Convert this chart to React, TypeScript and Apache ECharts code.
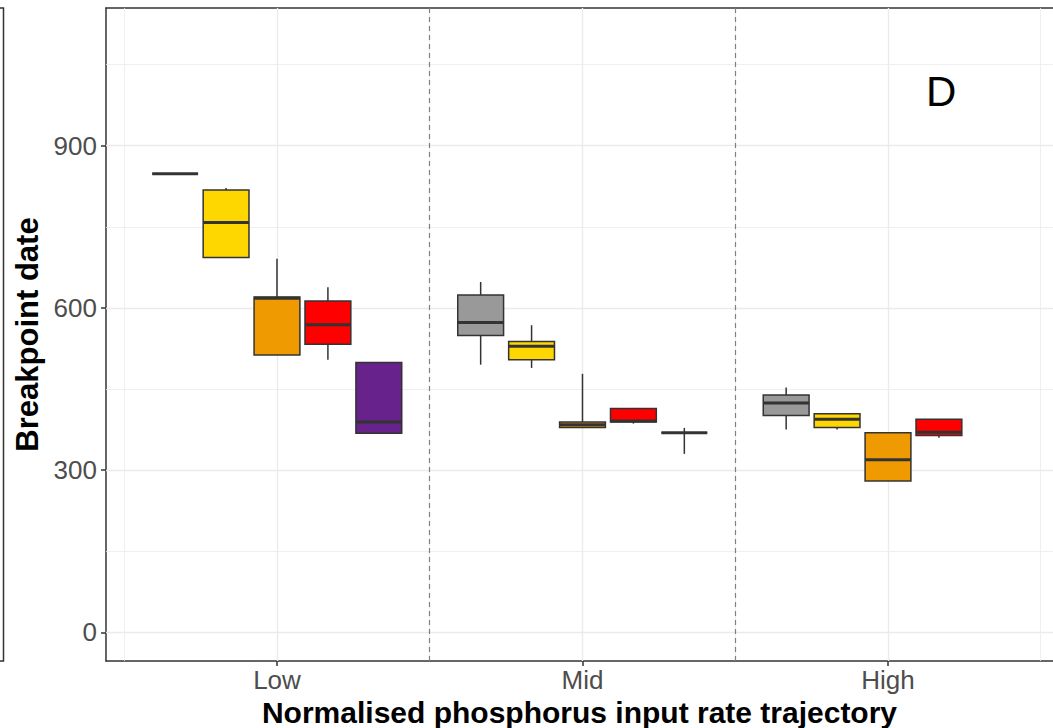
import React, { useEffect, useRef } from "react";
import * as echarts from "echarts";

// Trajectory classes on the x axis
const categories = ["Low", "Mid", "High"];

// Box statistics per group: [min, Q1, median, Q3, max] for Low, Mid, High
const greyStats = [
  [848, 848, 848, 848, 848],
  [495, 549, 573, 624, 648],
  [375, 401, 424, 439, 453],
];
const goldStats = [
  [693, 693, 758, 818, 822],
  [489, 504, 529, 538, 568],
  [375, 379, 394, 404, 404],
];
const orangeStats = [
  [513, 513, 618, 620, 691],
  [379, 379, 384, 389, 478],
  [280, 280, 319, 369, 369],
];
const redStats = [
  [504, 533, 569, 613, 638],
  [386, 389, 391, 414, 415],
  [360, 364, 370, 394, 394],
];
const purpleStats = [
  [368, 368, 389, 499, 500],
  [330, 369, 369, 369, 378],
  null,
];

const groupStats = [greyStats, goldStats, orangeStats, redStats, purpleStats];
const groupColors = ["#999999", "#FFD700", "#EE9A00", "#FF0000", "#68228B"];

// Axis breaks
const yMajor = [0, 300, 600, 900];
const yMinor = [150, 450, 750, 1050];
const xMajor = [1, 2, 3];
const xMinor = [0.5, 1.5, 2.5, 3.5];
const dividers = [1.5, 2.5];

const FONT = "'Liberation Sans', Arial, Helvetica, sans-serif";
const DODGE = 1 / 6;
const BOX_WIDTH = 0.15;

const X_MIN = 0.4403;
const X_MAX = 3.5401;
const Y_MIN = -53.08;
const Y_MAX = 1154.7;

export default function App() {
  const ref = useRef<HTMLDivElement>(null);

  useEffect(() => {
    if (!ref.current) return;
    const chart = echarts.init(ref.current, null, { renderer: "svg" });

    const boxData: number[][] = [];
    groupStats.forEach((stats, g) => {
      stats.forEach((s, c) => {
        if (s) boxData.push([c, g, ...s]);
      });
    });

    const gridColor = "#EBEBEB";
    const frame = { color: "#333333", width: 1.5 };

    const option: any = {
      animation: false,
      backgroundColor: "#ffffff",
      textStyle: { fontFamily: FONT },
      grid: {
        left: 106,
        top: 8,
        right: 0,
        bottom: 67,
        show: false,
        containLabel: false,
        outerBoundsMode: "none",
      },
      xAxis: [
        {
          type: "value",
          min: X_MIN,
          max: X_MAX,
          position: "bottom",
          name: "Normalised phosphorus input rate trajectory",
          nameLocation: "middle",
          nameGap: 34,
          nameTextStyle: {
            fontFamily: FONT,
            fontSize: 30,
            lineHeight: 30,
            fontWeight: "bold",
            color: "#000000",
          },
          axisLine: { show: true, onZero: false, lineStyle: frame },
          splitLine: { show: false },
          axisTick: {
            show: true,
            customValues: xMajor,
            length: 5,
            lineStyle: frame,
          },
          axisLabel: {
            customValues: xMajor,
            formatter: (v: number) => categories[Math.round(v) - 1] ?? "",
            fontFamily: FONT,
            fontSize: 26,
            color: "#4D4D4D",
            margin: 6,
          },
        },
        {
          // top edge of the panel
          type: "value",
          min: X_MIN,
          max: X_MAX,
          position: "top",
          axisLine: { show: true, onZero: false, lineStyle: frame },
          axisTick: { show: false },
          axisLabel: { show: false },
          splitLine: { show: false },
        },
      ],
      yAxis: {
        type: "value",
        min: Y_MIN,
        max: Y_MAX,
        name: "Breakpoint date",
        nameLocation: "middle",
        nameGap: 59,
        nameTextStyle: {
          fontFamily: FONT,
          fontSize: 31,
          fontWeight: "bold",
          color: "#000000",
        },
        axisLine: { show: true, onZero: false, lineStyle: frame },
        splitLine: { show: false },
        axisTick: {
          show: true,
          customValues: yMajor,
          length: 5,
          lineStyle: frame,
        },
        axisLabel: {
          customValues: yMajor,
          fontFamily: FONT,
          fontSize: 26,
          color: "#4D4D4D",
          margin: 9,
        },
      },
      series: [
        {
          // background grid
          type: "line",
          data: [],
          z: 1,
          silent: true,
          markLine: {
            silent: true,
            z: 1,
            symbol: ["none", "none"],
            label: { show: false },
            emphasis: { disabled: true },
            data: [
              ...yMinor.map((v) => ({ yAxis: v, lineStyle: { color: gridColor, width: 0.8, type: "solid" } })),
              ...xMinor.map((v) => ({ xAxis: v, lineStyle: { color: gridColor, width: 0.8, type: "solid" } })),
              ...yMajor.map((v) => ({ yAxis: v, lineStyle: { color: gridColor, width: 1.4, type: "solid" } })),
              ...xMajor.map((v) => ({ xAxis: v, lineStyle: { color: gridColor, width: 1.4, type: "solid" } })),
            ],
          },
        },
        {
          // dashed dividers between trajectory classes
          type: "line",
          data: [],
          z: 2,
          silent: true,
          markLine: {
            silent: true,
            z: 2,
            symbol: ["none", "none"],
            label: { show: false },
            emphasis: { disabled: true },
            data: dividers.map((v) => ({
              xAxis: v,
              lineStyle: { color: "#808080", width: 1.2, type: [5, 4] },
            })),
          },
        },
        {
          type: "custom",
          z: 10,
          data: boxData,
          clip: true,
          encode: { x: 0, y: [2, 3, 4, 5, 6] },
          renderItem: (params: any, api: any) => {
            const c = api.value(0);
            const g = api.value(1);
            const xc = c + 1 + (g - 2) * DODGE;
            const pMin = api.coord([xc, api.value(2)]);
            const pQ1 = api.coord([xc, api.value(3)]);
            const pMed = api.coord([xc, api.value(4)]);
            const pQ3 = api.coord([xc, api.value(5)]);
            const pMax = api.coord([xc, api.value(6)]);
            const w = api.size([BOX_WIDTH, 0])[0];
            const x = pMed[0];
            const stroke = "#333333";
            return {
              type: "group",
              children: [
                {
                  type: "line",
                  shape: { x1: x, y1: pMax[1], x2: x, y2: pQ3[1] },
                  style: { stroke, lineWidth: 1.5 },
                },
                {
                  type: "line",
                  shape: { x1: x, y1: pQ1[1], x2: x, y2: pMin[1] },
                  style: { stroke, lineWidth: 1.5 },
                },
                {
                  type: "rect",
                  shape: { x: x - w / 2, y: pQ3[1], width: w, height: pQ1[1] - pQ3[1] },
                  style: { fill: groupColors[g], stroke, lineWidth: 1.5 },
                },
                {
                  type: "line",
                  shape: { x1: x - w / 2, y1: pMed[1], x2: x + w / 2, y2: pMed[1] },
                  style: { stroke, lineWidth: 3 },
                },
              ],
            };
          },
        },
      ],
      graphic: [
        {
          // edge of the neighbouring panel
          type: "polyline",
          silent: true,
          shape: { points: [[-5, 8], [3.5, 8], [3.5, 661], [-5, 661]] },
          style: { stroke: "#333333", lineWidth: 1.5, fill: "none" },
        },
        {
          type: "text",
          left: 926,
          top: 70,
          silent: true,
          style: {
            text: "D",
            fontFamily: FONT,
            fontSize: 42,
            fill: "#000000",
          },
        },
      ],
    };

    chart.setOption(option);
    return () => chart.dispose();
  }, []);

  return (
    <div
      ref={ref}
      style={{ position: "fixed", left: 0, top: 0, width: 1053, height: 728, background: "#fff" }}
    />
  );
}
